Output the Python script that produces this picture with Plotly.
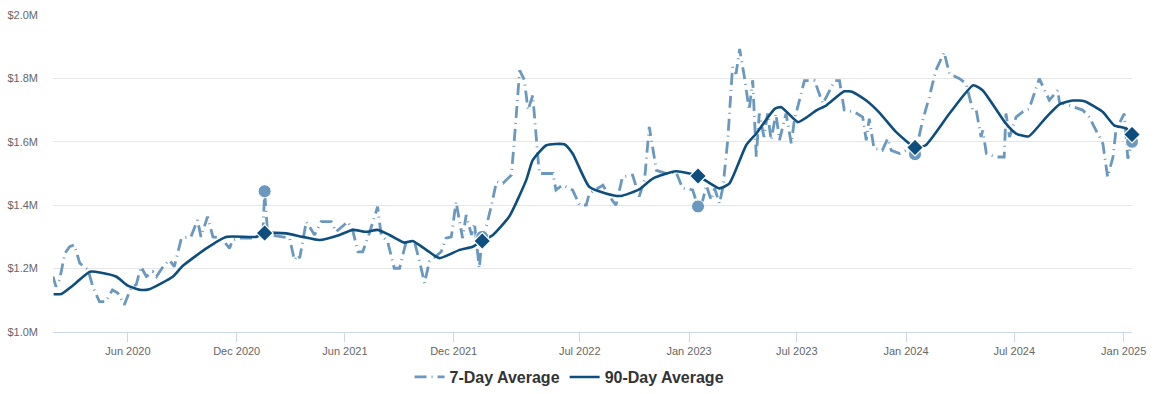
import plotly.graph_objects as go

# ---- data (values in $ millions) ----
seven_day_dates = [
    "2020-01-27","2020-02-01","2020-02-07","2020-02-16","2020-02-24","2020-03-03","2020-03-12","2020-03-20","2020-03-26","2020-04-03",
    "2020-04-14","2020-04-25","2020-05-06","2020-05-15","2020-05-26","2020-06-07","2020-06-15","2020-06-23","2020-07-02","2020-07-13",
    "2020-07-19","2020-07-30","2020-08-10","2020-08-18","2020-08-30","2020-09-15","2020-09-26","2020-10-02","2020-10-13","2020-10-22",
    "2020-11-05","2020-11-19","2020-11-24","2020-12-06","2020-12-28","2021-01-14","2021-01-17","2021-01-22","2021-02-05","2021-02-16",
    "2021-02-28","2021-03-08","2021-03-14","2021-03-17","2021-03-28","2021-04-11","2021-04-22","2021-05-09","2021-05-17","2021-06-06",
    "2021-06-14","2021-06-23","2021-07-01","2021-07-12","2021-07-26","2021-08-01","2021-08-12","2021-08-23","2021-09-01","2021-09-12",
    "2021-09-26","2021-10-04","2021-10-13","2021-10-21","2021-11-01","2021-11-10","2021-11-18","2021-11-27","2021-12-05","2021-12-11",
    "2021-12-16","2021-12-22","2021-12-31","2022-01-05","2022-01-10","2022-01-13","2022-01-18","2022-01-22","2022-02-02","2022-02-11",
    "2022-02-22","2022-03-08","2022-03-13","2022-03-22","2022-03-30","2022-04-05","2022-04-13","2022-04-24","2022-05-17","2022-05-22",
    "2022-06-02","2022-06-19","2022-07-01","2022-07-12","2022-07-17","2022-08-09","2022-08-20","2022-08-31","2022-09-11","2022-09-28",
    "2022-10-09","2022-10-18","2022-10-26","2022-11-01","2022-11-07","2022-11-24","2022-12-10","2022-12-21","2023-01-07","2023-01-16",
    "2023-01-24","2023-01-30","2023-02-07","2023-02-13","2023-02-21","2023-02-27","2023-03-07","2023-03-15","2023-03-21","2023-03-27",
    "2023-04-04","2023-04-12","2023-04-18","2023-04-24","2023-04-29","2023-05-07","2023-05-13","2023-05-19","2023-05-27","2023-06-02",
    "2023-06-13","2023-06-22","2023-06-27","2023-07-14","2023-07-31","2023-08-14","2023-08-25","2023-09-03","2023-09-11","2023-09-19",
    "2023-10-06","2023-10-20","2023-10-26","2023-10-31","2023-11-08","2023-11-22","2023-12-01","2023-12-07","2023-12-21","2024-01-01",
    "2024-01-16","2024-01-29","2024-02-09","2024-02-20","2024-03-05","2024-03-14","2024-03-31","2024-04-11","2024-04-22","2024-04-28",
    "2024-05-06","2024-05-09","2024-05-15","2024-05-31","2024-06-14","2024-06-17","2024-06-23","2024-07-04","2024-07-15","2024-07-26",
    "2024-08-12","2024-08-29","2024-09-12","2024-09-15","2024-10-01","2024-10-24","2024-11-04","2024-11-10","2024-11-27","2024-12-05",
    "2024-12-14","2024-12-19","2025-01-02","2025-01-08","2025-01-15",
]
seven_day_values = [
    1.175,1.143,1.164,1.248,1.269,1.275,1.217,1.206,1.196,1.143,
    1.096,1.096,1.133,1.123,1.086,1.143,1.149,1.206,1.175,1.19,
    1.175,1.206,1.227,1.206,1.296,1.30,1.353,1.30,1.364,1.30,
    1.296,1.264,1.29,1.296,1.296,1.311,1.444,1.311,1.303,1.30,
    1.296,1.227,1.243,1.233,1.348,1.306,1.348,1.348,1.316,1.348,
    1.322,1.253,1.253,1.311,1.395,1.306,1.285,1.201,1.201,1.285,
    1.285,1.227,1.154,1.222,1.238,1.253,1.296,1.30,1.411,1.353,
    1.296,1.369,1.306,1.343,1.238,1.201,1.30,1.311,1.395,1.474,
    1.469,1.495,1.605,1.825,1.794,1.70,1.746,1.50,1.50,1.448,
    1.463,1.448,1.40,1.40,1.437,1.463,1.427,1.40,1.489,1.495,
    1.427,1.479,1.647,1.584,1.51,1.50,1.505,1.453,1.448,1.396,
    1.416,1.463,1.416,1.453,1.405,1.458,1.605,1.835,1.814,1.893,
    1.804,1.70,1.794,1.552,1.689,1.615,1.689,1.605,1.689,1.605,
    1.689,1.594,1.668,1.793,1.793,1.72,1.762,1.793,1.793,1.70,
    1.694,1.678,1.605,1.673,1.579,1.573,1.61,1.573,1.563,1.573,
    1.561,1.668,1.741,1.825,1.882,1.814,1.799,1.783,1.70,1.70,
    1.615,1.636,1.563,1.552,1.552,1.689,1.615,1.678,1.694,1.704,
    1.799,1.731,1.762,1.725,1.715,1.70,1.678,1.657,1.594,1.489,
    1.552,1.636,1.689,1.547,1.60,
]

ninety_day_dates = [
    "2020-01-28","2020-02-10","2020-02-29","2020-03-29","2020-04-17","2020-05-12","2020-06-01","2020-06-21","2020-07-07","2020-08-16",
    "2020-09-01","2020-10-11","2020-11-13","2021-01-03","2021-01-17","2021-02-22","2021-03-22","2021-04-19","2021-05-23","2021-06-14",
    "2021-07-07","2021-07-26","2021-08-15","2021-09-09","2021-09-23","2021-10-16","2021-11-07","2021-12-11","2022-01-02","2022-01-18",
    "2022-02-05","2022-03-05","2022-04-02","2022-04-13","2022-05-06","2022-06-05","2022-06-19","2022-07-17","2022-08-14","2022-09-08",
    "2022-10-09","2022-11-01","2022-12-10","2023-01-16","2023-02-21","2023-03-10","2023-04-07","2023-04-24","2023-05-25","2023-06-05",
    "2023-07-03","2023-07-17","2023-08-03","2023-08-20","2023-09-19","2023-10-03","2023-10-26","2023-11-17","2023-12-15","2024-01-16",
    "2024-02-03","2024-03-14","2024-04-23","2024-05-09","2024-06-17","2024-07-04","2024-07-25","2024-08-24","2024-09-15","2024-10-07",
    "2024-10-27","2024-11-27","2024-12-16","2025-01-05","2025-01-15",
]
ninety_day_values = [
    1.119,1.12,1.146,1.19,1.187,1.175,1.146,1.133,1.135,1.175,
    1.208,1.264,1.30,1.30,1.312,1.311,1.30,1.29,1.306,1.322,
    1.316,1.322,1.306,1.282,1.287,1.259,1.233,1.259,1.269,1.287,
    1.306,1.366,1.479,1.542,1.589,1.592,1.563,1.458,1.437,1.429,
    1.45,1.484,1.507,1.492,1.453,1.469,1.589,1.626,1.704,1.709,
    1.662,1.676,1.699,1.715,1.759,1.757,1.73,1.692,1.631,1.582,
    1.589,1.689,1.778,1.762,1.657,1.626,1.617,1.678,1.718,1.73,
    1.728,1.694,1.652,1.642,1.623,
]

# highlighted annual points
marker_dates = ["2021-01-17", "2022-01-18", "2023-01-16", "2024-01-16", "2025-01-15"]
marker_seven_day = [1.444, 1.30, 1.396, 1.561, 1.60]
marker_ninety_day = [1.312, 1.287, 1.492, 1.582, 1.623]

tick_dates = ["2020-06-01", "2020-12-01", "2021-06-01", "2021-12-01", "2022-07-01",
              "2023-01-01", "2023-07-01", "2024-01-01", "2024-07-01", "2025-01-01"]
tick_labels = ["Jun 2020", "Dec 2020", "Jun 2021", "Dec 2021", "Jul 2022",
               "Jan 2023", "Jul 2023", "Jan 2024", "Jul 2024", "Jan 2025"]
y_ticks = [1.0, 1.2, 1.4, 1.6, 1.8, 2.0]
y_tick_labels = ["$1.0M", "$1.2M", "$1.4M", "$1.6M", "$1.8M", "$2.0M"]

LIGHT = "#6b98be"
DARK = "#0d4e7e"
FONT = "Liberation Sans, Arial, sans-serif"

fig = go.Figure()
fig.add_trace(go.Scatter(
    x=seven_day_dates, y=seven_day_values, mode="lines", name="7-Day Average",
    line=dict(color=LIGHT, width=2.8, dash="12px,5px,1px,5px"),
))
fig.add_trace(go.Scatter(
    x=ninety_day_dates, y=ninety_day_values, mode="lines", name="90-Day Average",
    line=dict(color=DARK, width=2.6, shape="spline", smoothing=0.5),
))
fig.add_trace(go.Scatter(
    x=marker_dates, y=marker_seven_day, mode="markers", showlegend=False,
    marker=dict(symbol="circle", size=13, color=LIGHT, line=dict(color="white", width=1)),
    cliponaxis=False,
))
fig.add_trace(go.Scatter(
    x=marker_dates, y=marker_ninety_day, mode="markers", showlegend=False,
    marker=dict(symbol="diamond", size=13, color=DARK, line=dict(color="white", width=1.2)),
    cliponaxis=False,
))

fig.update_layout(
    width=1160, height=394,
    margin=dict(l=53, r=28, t=14, b=62, autoexpand=False),
    paper_bgcolor="white", plot_bgcolor="white",
    font=dict(family=FONT, color="#666666", size=11),
    showlegend=True,
    legend=dict(
        orientation="h", xref="container", yref="container",
        x=0.491, xanchor="center", y=0.043, yanchor="middle",
        font=dict(family=FONT, size=16, color="#333333", weight="bold"),
        itemwidth=30, tracegroupgap=0,
    ),
    xaxis=dict(
        type="date", range=["2020-01-27", "2025-01-15"], automargin=False,
        tickvals=tick_dates, ticktext=tick_labels,
        showgrid=False, zeroline=False,
        showline=True, linecolor="#ccd6eb", linewidth=1,
        ticks="outside", ticklen=9, tickcolor="#ccd6eb", tickwidth=1,
        tickfont=dict(family=FONT, size=11, color="#666666"),
    ),
    yaxis=dict(
        range=[1.0, 2.003], automargin=False, tickvals=y_ticks, ticktext=y_tick_labels,
        showgrid=True, gridcolor="#e6e6e6", gridwidth=1, zeroline=False, showline=False,
        ticks="", ticklabelstandoff=14, ticklabeloverflow="allow",
        tickfont=dict(family=FONT, size=11, color="#666666"),
    ),
)

fig.write_html(
    "out.html",
    config={"displayModeBar": False},
    post_script="document.body.style.margin='0';document.body.style.overflow='hidden';",
)
